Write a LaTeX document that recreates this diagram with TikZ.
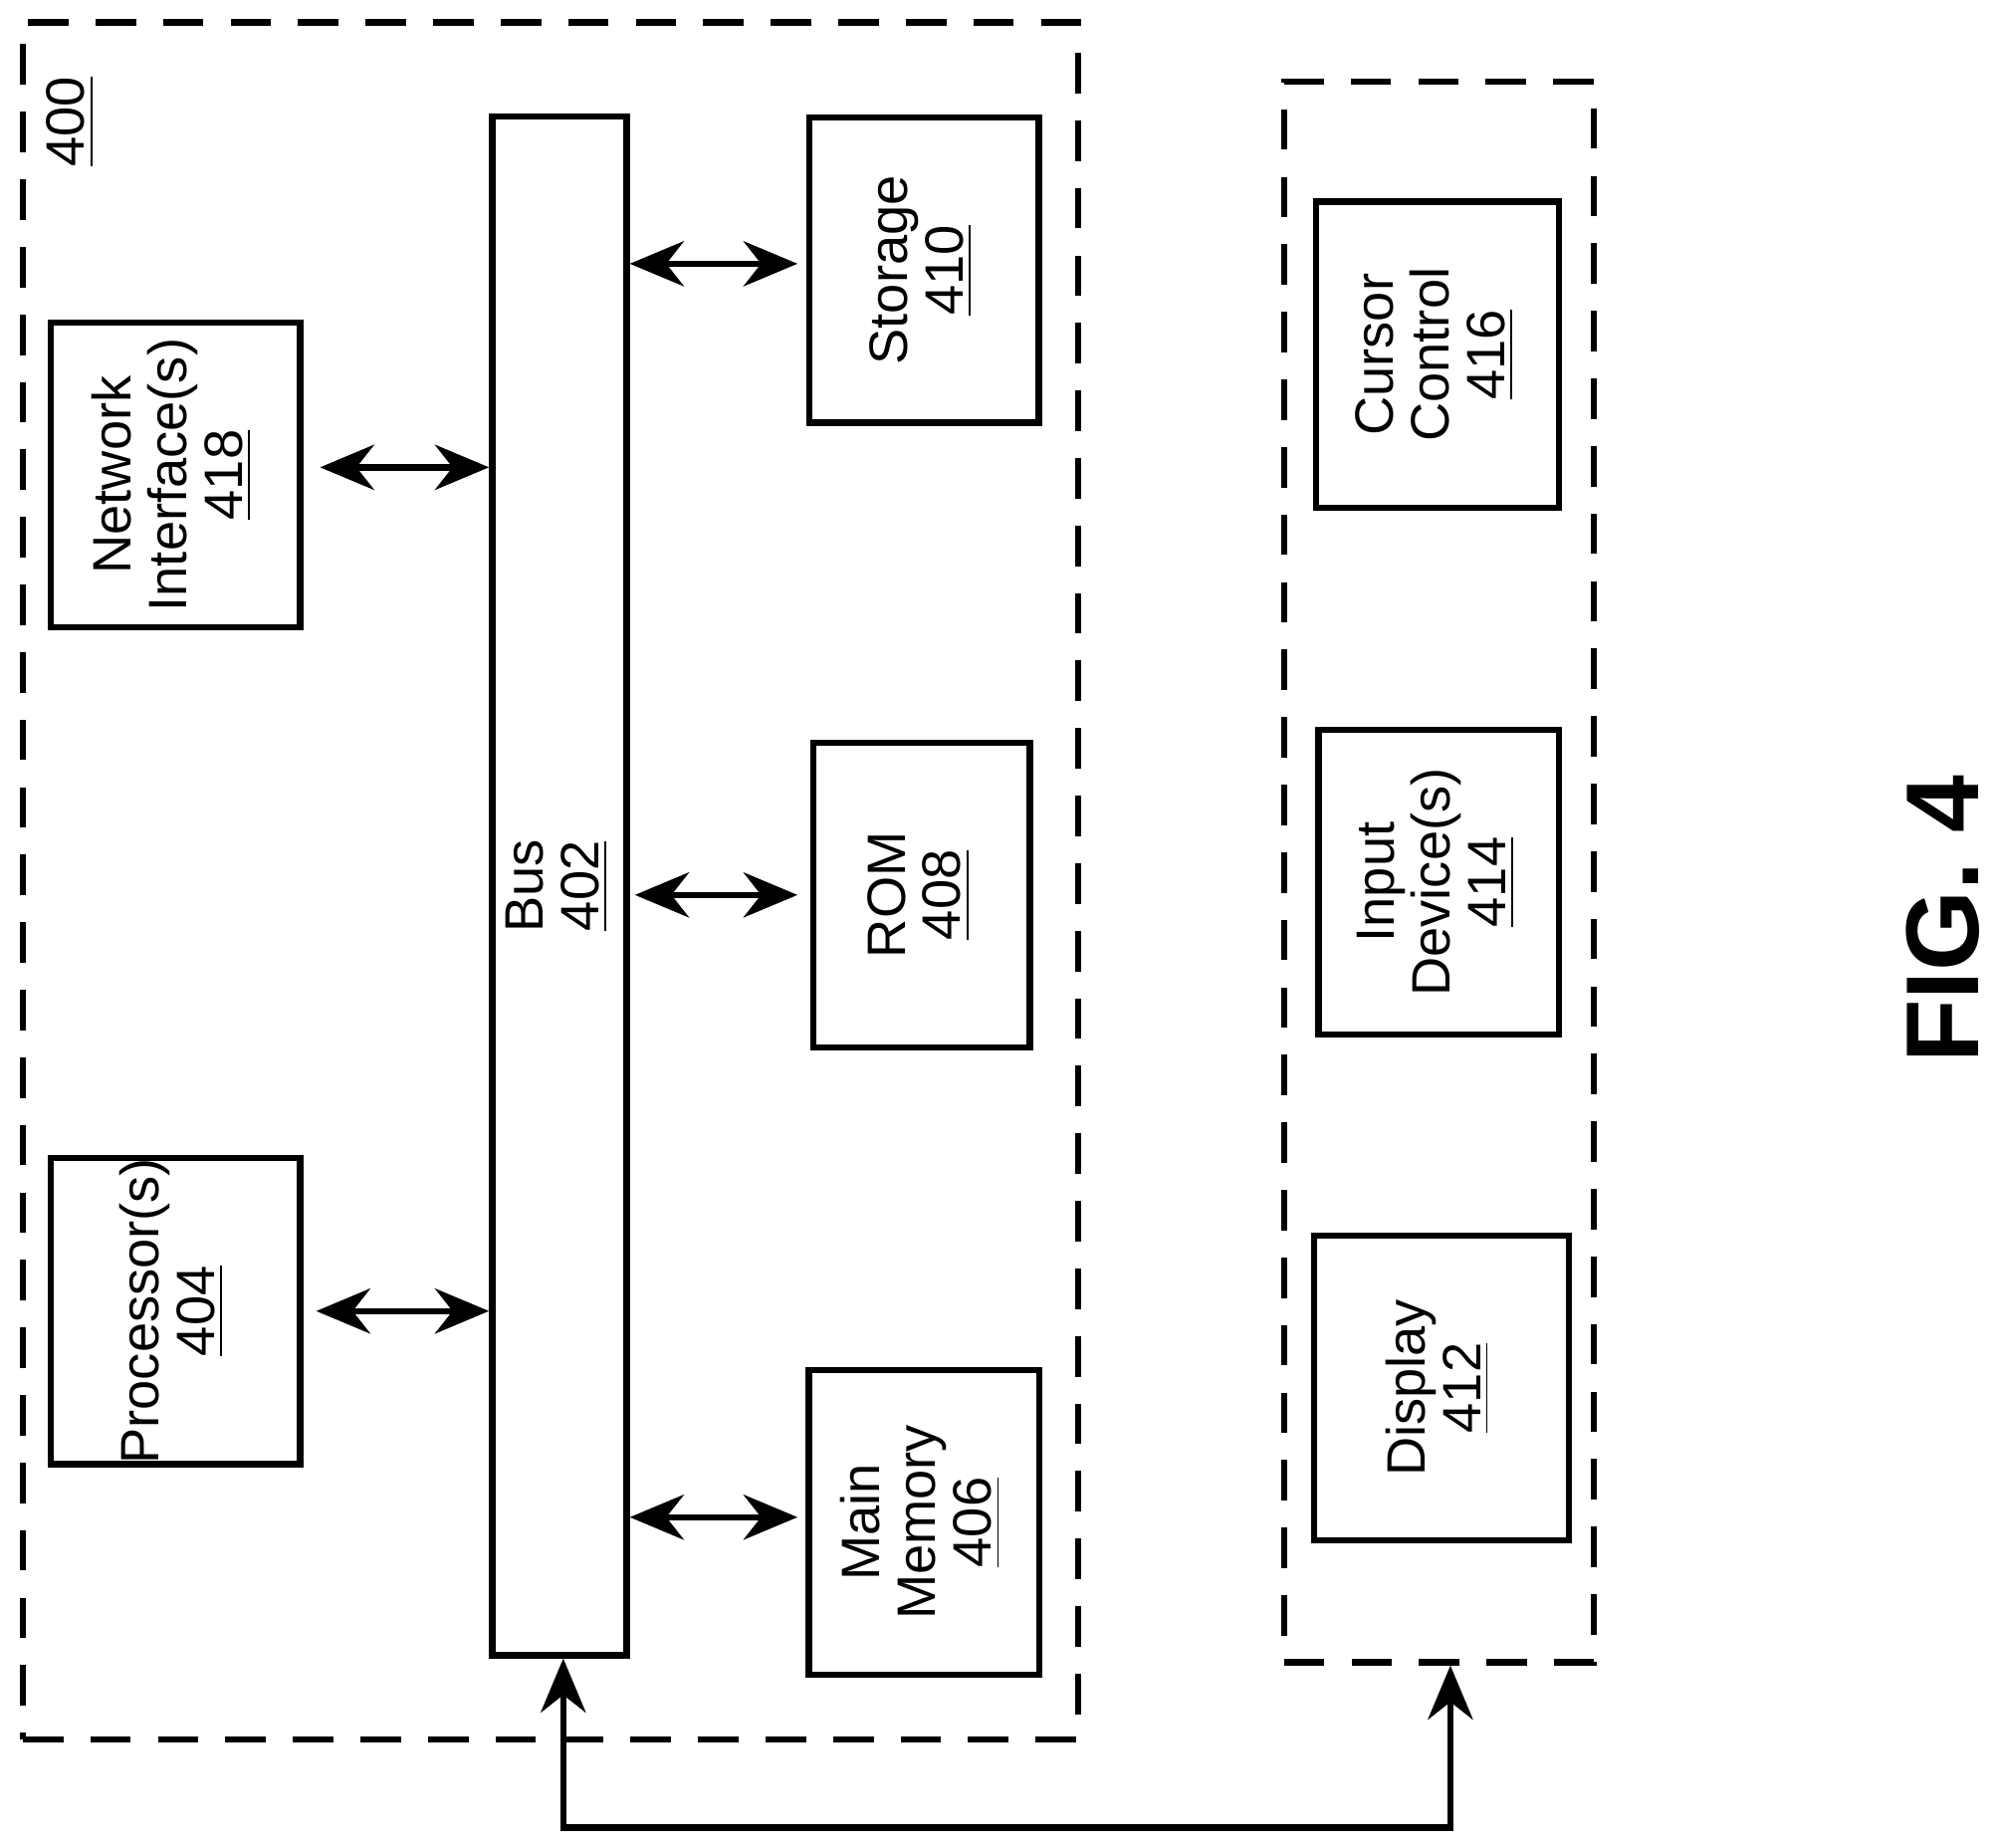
\documentclass[tikz,border=0pt]{standalone}
\usepackage{fontspec}
\setmainfont{Liberation Sans}
\usetikzlibrary{arrows.meta,positioning,calc}

\tikzset{
  blk/.style={draw,line width=1.4pt,inner sep=0pt,font=\fontsize{12}{13}\selectfont},
  grp/.style={draw,line width=1.4pt,dash pattern=on 9pt off 6pt,inner sep=0pt},
  dbl/.style={{Stealth[length=12pt,width=10pt]}-{Stealth[length=12pt,width=10pt]},line width=1.4pt},
}
\newcommand{\vlab}[2]{\rotatebox{90}{\renewcommand{\arraystretch}{0.95}\begin{tabular}{@{}c@{}}#1\\\underline{#2}\end{tabular}}}

\begin{document}
\begin{tikzpicture}[x=0.01cm,y=-0.01cm]
  \useasboundingbox (0,0) rectangle (1560,1443);

  % groups
  \node[grp,minimum width=8.24cm,minimum height=13.40cm] (sys) at (430,688) {};
  \node[grp,minimum width=2.42cm,minimum height=12.34cm] (io) at (1124,681) {};
  \node[font=\fontsize{12}{13}\selectfont,rotate=90] (num) at (55,95) {\underline{400}};

  % computer side
  \node[blk,minimum width=1.05cm,minimum height=12.01cm] (bus) at (437,692) {\vlab{Bus}{402}};
  \node[blk,minimum width=1.95cm,minimum height=2.38cm] (net) at (137,371) {\vlab{Network\\Interface(s)}{418}};
  \node[blk,minimum width=1.95cm,minimum height=2.38cm] (cpu) at (137,1024) {\vlab{Processor(s)}{404}};
  \node[blk,minimum width=1.79cm,minimum height=2.38cm] (sto) at (722,211) {\vlab{Storage}{410}};
  \node[blk,minimum width=1.69cm,minimum height=2.38cm] (rom) at (720,699) {\vlab{ROM}{408}};
  \node[blk,minimum width=1.80cm,minimum height=2.38cm] (mem) at (722,1189) {\vlab{Main\\Memory}{406}};

  % i/o side
  \node[blk,minimum width=1.90cm,minimum height=2.39cm] (cur) at (1123,277) {\vlab{Cursor\\Control}{416}};
  \node[blk,minimum width=1.88cm,minimum height=2.38cm] (inp) at (1124,689) {\vlab{Input\\Device(s)}{414}};
  \node[blk,minimum width=1.99cm,minimum height=2.38cm] (dsp) at (1126,1084) {\vlab{Display}{412}};

  \node[font=\fontsize{23}{26}\selectfont\bfseries,rotate=90] (fig) at (1518,718) {FIG. 4};

  % links
  \draw[dbl,shorten <=0.13cm] ([yshift=0.06cm]net.east) -- ([yshift=0.06cm]net.east -| bus.west);
  \draw[dbl,shorten <=0.1cm] (cpu.east) -- (cpu.east -| bus.west);
  \draw[dbl] (bus.east |- 0,206) -- (623,206);
  \draw[dbl] ([xshift=0.04cm]bus.east |- rom.west) -- ([xshift=-0.1cm]rom.west);
  \draw[dbl] (bus.east |- 0,1185) -- (623,1185);
  \draw[dbl] ([xshift=0.03cm]bus.south) -- ++(0,132) -| ([xshift=0.09cm]io.south);
\end{tikzpicture}
\end{document}
